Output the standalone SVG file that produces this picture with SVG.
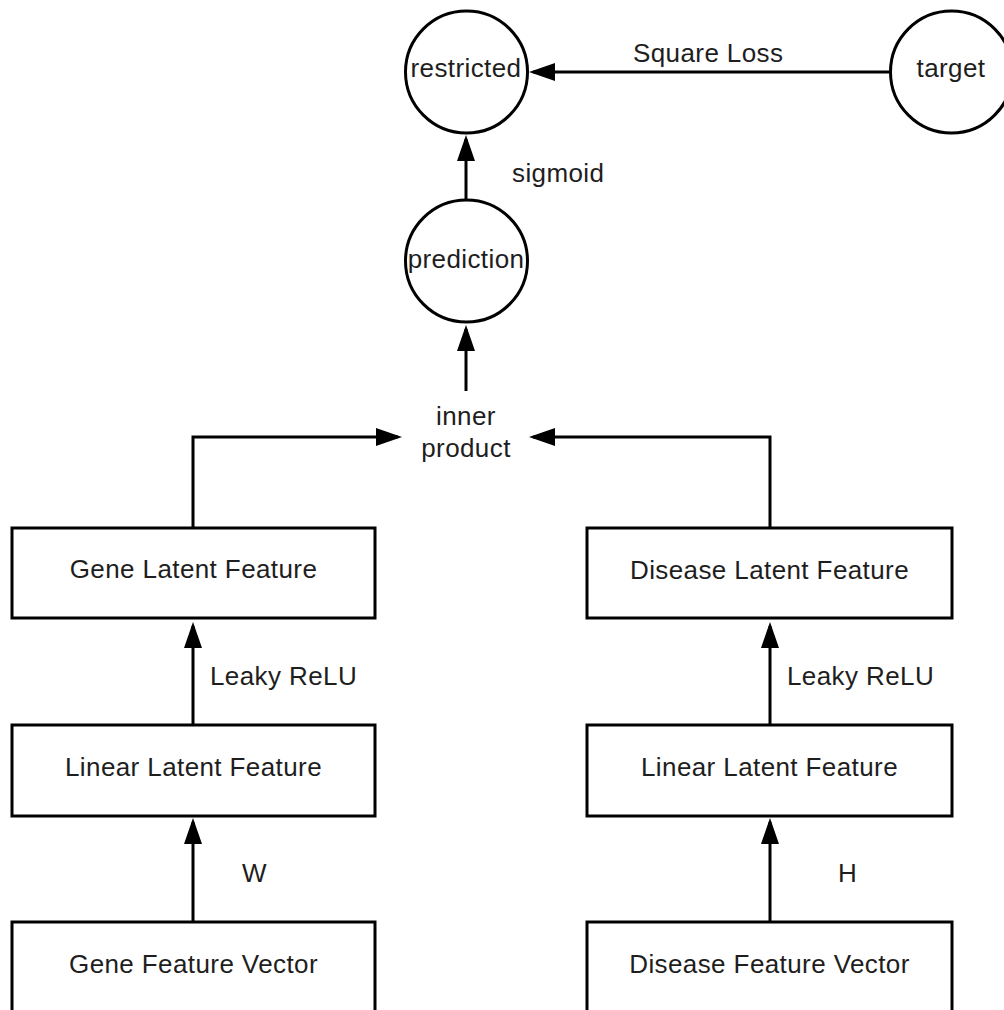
<svg xmlns="http://www.w3.org/2000/svg" width="1004" height="1010" viewBox="0 0 1004 1010">
  <defs>
    <marker id="arrow" markerUnits="userSpaceOnUse" markerWidth="26" markerHeight="18" refX="22" refY="9" orient="auto">
      <path d="M0,0 L26,9 L0,18 Z" fill="#000"/>
    </marker>
    <style>
      .box { fill: #fff; stroke: #000; stroke-width: 3; }
      .node-text { font-family: "Liberation Sans", Arial, sans-serif; font-size: 26px; fill: #1e1e1e; text-anchor: middle; letter-spacing: 0.4px; }
      .label { font-family: "Liberation Sans", Arial, sans-serif; font-size: 26px; fill: #1e1e1e; letter-spacing: 0.4px; }
      .edge { fill: none; stroke: #000; stroke-width: 3; marker-end: url(#arrow); }
    </style>
  </defs>
  <rect width="1004" height="1010" fill="#fff"/>

  <!-- connectors -->
  <g id="connectors">
    <path class="edge" d="M890,72 L533,72"/>
    <path class="edge" d="M466,200 L466,139"/>
    <path class="edge" d="M466,391 L466,329"/>
    <path class="edge" d="M193,528 L193,437 L398,437"/>
    <path class="edge" d="M770,528 L770,437 L533,437"/>
    <path class="edge" d="M193,725 L193,626"/>
    <path class="edge" d="M770,725 L770,626"/>
    <path class="edge" d="M193,922 L193,822"/>
    <path class="edge" d="M770,922 L770,822"/>
  </g>

  <!-- edge labels -->
  <g id="edge-labels">
    <text class="label" x="633" y="62">Square Loss</text>
    <text class="label" x="512" y="182">sigmoid</text>
    <text class="node-text" x="466" y="425">inner</text>
    <text class="node-text" x="466" y="457">product</text>
    <text class="label" x="210" y="685">Leaky ReLU</text>
    <text class="label" x="787" y="685">Leaky ReLU</text>
    <text class="label" x="242" y="882">W</text>
    <text class="label" x="838" y="882">H</text>
  </g>

  <!-- circular nodes -->
  <g id="restricted">
    <circle class="box" cx="466.5" cy="72" r="61"/>
    <text class="node-text" x="466" y="77">restricted</text>
  </g>
  <g id="target">
    <circle class="box" cx="951.5" cy="72" r="61"/>
    <text class="node-text" x="951" y="77">target</text>
  </g>
  <g id="prediction">
    <circle class="box" cx="466.5" cy="261" r="61"/>
    <text class="node-text" x="466" y="268">prediction</text>
  </g>

  <!-- gene branch -->
  <g id="gene-latent">
    <rect class="box" x="12" y="528" width="363" height="90"/>
    <text class="node-text" x="193.5" y="578">Gene Latent Feature</text>
  </g>
  <g id="gene-linear">
    <rect class="box" x="12" y="725" width="363" height="91"/>
    <text class="node-text" x="193.5" y="776">Linear Latent Feature</text>
  </g>
  <g id="gene-vector">
    <rect class="box" x="12" y="922" width="363" height="100"/>
    <text class="node-text" x="193.5" y="973">Gene Feature Vector</text>
  </g>

  <!-- disease branch -->
  <g id="disease-latent">
    <rect class="box" x="587" y="528" width="365" height="90"/>
    <text class="node-text" x="769.5" y="579">Disease Latent Feature</text>
  </g>
  <g id="disease-linear">
    <rect class="box" x="587" y="725" width="365" height="91"/>
    <text class="node-text" x="769.5" y="776">Linear Latent Feature</text>
  </g>
  <g id="disease-vector">
    <rect class="box" x="587" y="922" width="365" height="100"/>
    <text class="node-text" x="769.5" y="973">Disease Feature Vector</text>
  </g>
</svg>
